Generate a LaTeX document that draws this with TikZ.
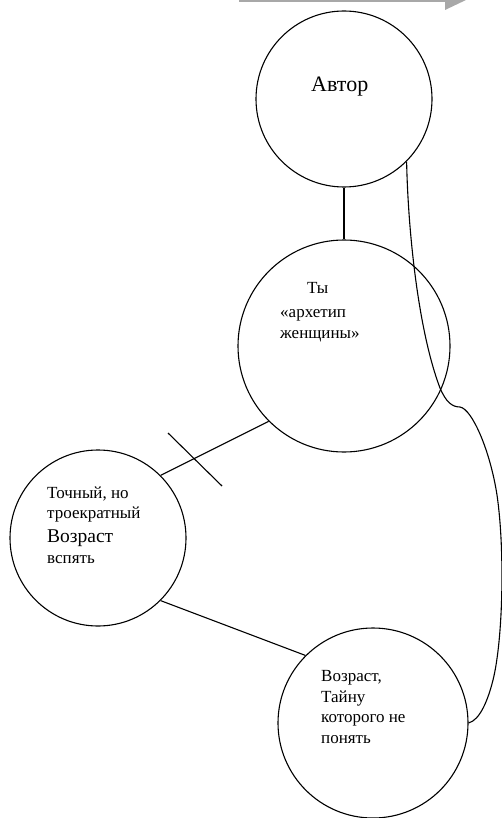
\documentclass[tikz,border=0pt]{standalone}
\usepackage{fontspec}
\setmainfont{Liberation Serif}
\begin{document}
\begin{tikzpicture}[x=1pt,y=-1pt,
  bubble/.style={draw, circle, line width=1.1pt, inner sep=0pt},
  link/.style={line width=1.1pt},
  txt/.style={anchor=base west, inner sep=0pt, font=\fontsize{17}{20}\selectfont},
  bigtxt/.style={txt, font=\fontsize{22}{26}\selectfont},
  midtxt/.style={txt, font=\fontsize{19.5}{22}\selectfont}]
\useasboundingbox (0,0) rectangle (502,818);

% grey block arrow along the top edge
\begin{scope}
  \clip (0,0) rectangle (502,818);
  \fill[black!34] (239,-8) -- (445,-8) -- (445,-30) -- (487,-10) -- (445,10)
        -- (445,2) -- (239,2) -- cycle;
\end{scope}

% circles
\node[bubble, minimum size=176pt] (c1) at (344,99) {};
\node[bubble, minimum size=212pt] (c2) at (344,346) {};
\node[bubble, minimum size=176pt] (c3) at (98,538) {};
\node[bubble, minimum size=190pt] (c4) at (373,723) {};

% texts
\node[bigtxt] (t1) at (311,92) {Автор};

\node[txt] (t2a) at (307,293) {Ты};
\node[txt] (t2b) at (280,317) {«архетип};
\node[txt] (t2c) at (280,338) {женщины»};

\node[txt] (t3a) at (47,498) {Точный, но};
\node[txt] (t3b) at (47,518) {троекратный};
\node[midtxt] (t3c) at (47,542) {Возраст};
\node[txt] (t3d) at (47,563) {вспять};

\node[txt] (t4a) at (321,681) {Возраст,};
\node[txt] (t4b) at (321,702) {Тайну};
\node[txt] (t4c) at (321,722) {которого не};
\node[txt] (t4d) at (321,743) {понять};

% connectors
\draw[link] (c1.south) -- (c2.north);
\draw[link] (c3.45) -- (c2.225);
\draw[link] (c3.-45) -- (c4.135);

% cross mark on the link
\coordinate (k1) at (168,433);
\coordinate (k2) at (222,486);
\draw[link] (k1) -- (k2);

% long curve from the author to the last circle
\draw[link] (c1.-45) .. controls (408,230) and (418,330) .. (440,388)
  .. controls (446,402) and (452,407) .. (460,407)
  .. controls (472,409) and (490,450) .. (497,495)
  .. controls (505,550) and (503,640) .. (493,680)
  .. controls (488,700) and (480,720) .. (c4.east);
\end{tikzpicture}
\end{document}
